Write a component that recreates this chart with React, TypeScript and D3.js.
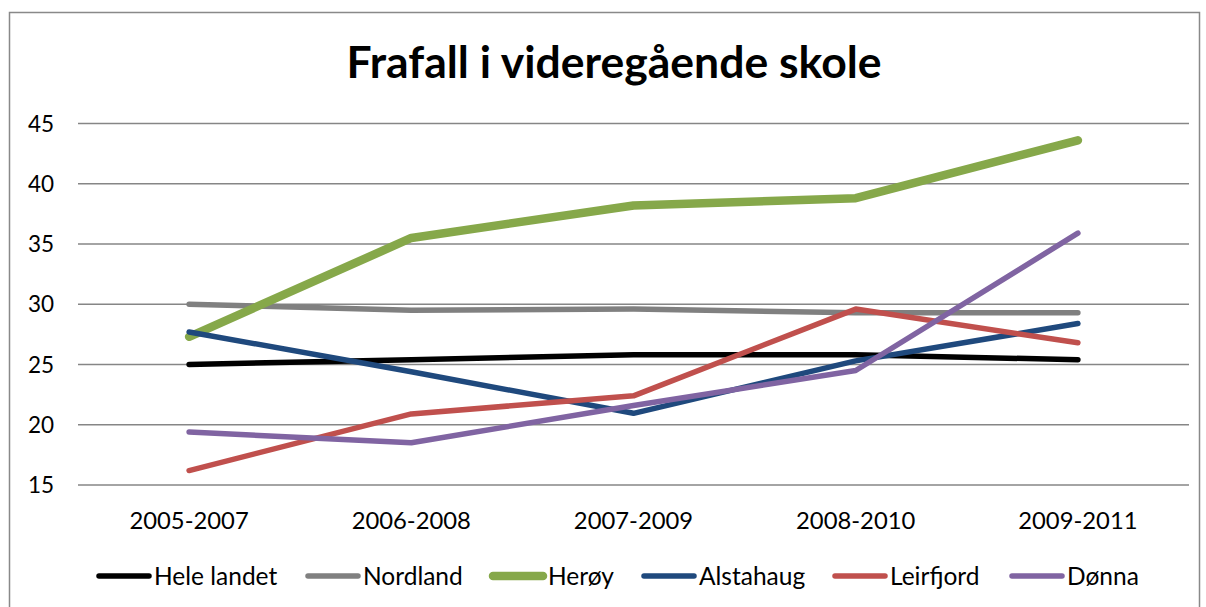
import React from "react";
import * as d3 from "d3";

const categories = ["2005-2007", "2006-2008", "2007-2009", "2008-2010", "2009-2011"];
const seriesNames = ["Hele landet", "Nordland", "Herøy", "Alstahaug", "Leirfjord", "Dønna"];
const heleLandet = [25.0, 25.4, 25.8, 25.8, 25.4];
const nordland = [30.0, 29.5, 29.6, 29.3, 29.3];
const heroy = [27.3, 35.5, 38.2, 38.8, 43.6];
const alstahaug = [27.7, 24.4, 20.95, 25.3, 28.4];
const leirfjord = [16.2, 20.9, 22.4, 29.6, 26.8];
const donna = [19.4, 18.5, 21.6, 24.5, 35.9];
const yTicks = [15, 20, 25, 30, 35, 40, 45];
const colors = ["#000000", "#808080", "#86A84A", "#1F497D", "#C0504D", "#8064A2"];
const widths = [5.5, 5.5, 8.5, 5.5, 5.5, 5.5];

const W = 1206;
const H = 607;
const FONT = "Lato, 'Open Sans', sans-serif";

export default function App() {
  const data = [heleLandet, nordland, heroy, alstahaug, leirfjord, donna];
  const x = d3.scaleBand<string>().domain(categories).range([78, 1189]);
  const y = d3.scaleLinear().domain([15, 45]).range([485, 123.5]);
  const line = d3
    .line<number>()
    .x((_, i) => (x(categories[i]) as number) + x.bandwidth() / 2)
    .y((d) => y(d));

  const legendSwatchX = [96, 305, 490, 641, 832, 1009];

  return (
    <svg
      width={W}
      height={H}
      style={{ position: "absolute", left: 0, top: 0, display: "block", background: "#fff" }}
    >
      <rect x={0} y={0} width={W} height={H} fill="#fff" />
      <rect x={9.5} y={12.5} width={1190} height={640} fill="none" stroke="#898989" strokeWidth={1.5} />
      <text
        x={614}
        y={78}
        textAnchor="middle"
        fontFamily={FONT}
        fontWeight="bold"
        fontSize={44.5}
        fill="#000"
      >
        Frafall i videregående skole
      </text>
      {yTicks.map((t) => (
        <g key={t}>
          <line x1={78} x2={1189} y1={y(t)} y2={y(t)} stroke="#868686" strokeWidth={1.6} />
          <text
            x={54}
            y={y(t)}
            dy="0.36em"
            textAnchor="end"
            fontFamily={FONT}
            fontSize={22.5}
            fill="#000"
          >
            {t}
          </text>
        </g>
      ))}
      {categories.map((c) => (
        <text
          key={c}
          x={(x(c) as number) + x.bandwidth() / 2}
          y={529}
          textAnchor="middle"
          fontFamily={FONT}
          fontSize={23.8}
          fill="#000"
        >
          {c}
        </text>
      ))}
      {data.map((s, i) => (
        <path
          key={seriesNames[i]}
          d={line(s) || ""}
          fill="none"
          stroke={colors[i]}
          strokeWidth={widths[i]}
          strokeLinecap="round"
          strokeLinejoin="round"
        />
      ))}
      {seriesNames.map((n, i) => (
        <g key={n}>
          <line
            x1={legendSwatchX[i] + 3}
            x2={legendSwatchX[i] + 53}
            y1={576}
            y2={576}
            stroke={colors[i]}
            strokeWidth={widths[i]}
            strokeLinecap="round"
          />
          <text
            x={legendSwatchX[i] + 58}
            y={576}
            dy="0.36em"
            fontFamily={FONT}
            fontSize={24.5}
            fill="#000"
          >
            {n}
          </text>
        </g>
      ))}
    </svg>
  );
}
